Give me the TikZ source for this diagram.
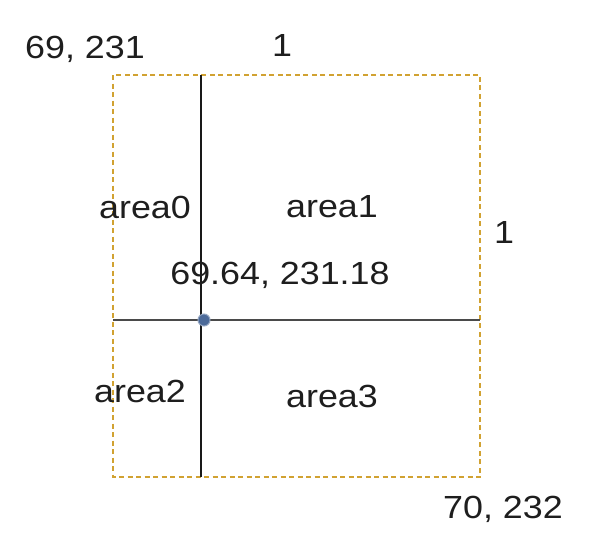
\documentclass[tikz,border=0pt]{standalone}
\usepackage{fontspec}
\setmainfont{Liberation Sans}
\usepackage{graphicx}
\definecolor{boxgold}{HTML}{D1A232}
\definecolor{hline}{HTML}{4A4A4A}
\definecolor{dotblue}{HTML}{4C6A99}
\definecolor{txt}{HTML}{1E1E1E}
\newcommand{\lbltext}[1]{\scalebox{1.12}[1]{#1}}
\begin{document}
\begin{tikzpicture}[x=1pt,y=-1pt,
  lbl/.style={inner sep=0pt,anchor=base,text=txt,font=\fontsize{32}{38}\selectfont},
  boxline/.style={draw=boxgold,line width=2.5pt,dash pattern=on 5pt off 3.5pt},
  vline/.style={draw=black!90,line width=2.5pt},
  hzline/.style={draw=hline,line width=2.5pt}]
\useasboundingbox[fill=white] (0,0) rectangle (610,546);
\coordinate (tl) at (113,75);
\coordinate (br) at (480,477);
\coordinate (vt) at (201,75);
\coordinate (vb) at (201,477);
\coordinate (hl) at (113,320);
\coordinate (hr) at (480,320);
\draw[boxline] (tl) rectangle (br);
\draw[vline] (vt) -- (vb);
\draw[hzline] (hl) -- (hr);
\node[circle,fill=dotblue,draw=dotblue!60,line width=1pt,minimum size=12pt,inner sep=0pt] (dot) at (204,320) {};
\node[lbl] (c0) at (85,58) {\lbltext{69, 231}};
\node[lbl] (w) at (282,56) {\lbltext{1}};
\node[lbl] (a0) at (145,218) {\lbltext{area0}};
\node[lbl] (a1) at (332,217) {\lbltext{area1}};
\node[lbl] (h) at (504,243) {\lbltext{1}};
\node[lbl] (mid) at (280,284) {\lbltext{69.64, 231.18}};
\node[lbl] (a2) at (140,402) {\lbltext{area2}};
\node[lbl] (a3) at (332,407) {\lbltext{area3}};
\node[lbl] (c1) at (503,518) {\lbltext{70, 232}};
\end{tikzpicture}
\end{document}
